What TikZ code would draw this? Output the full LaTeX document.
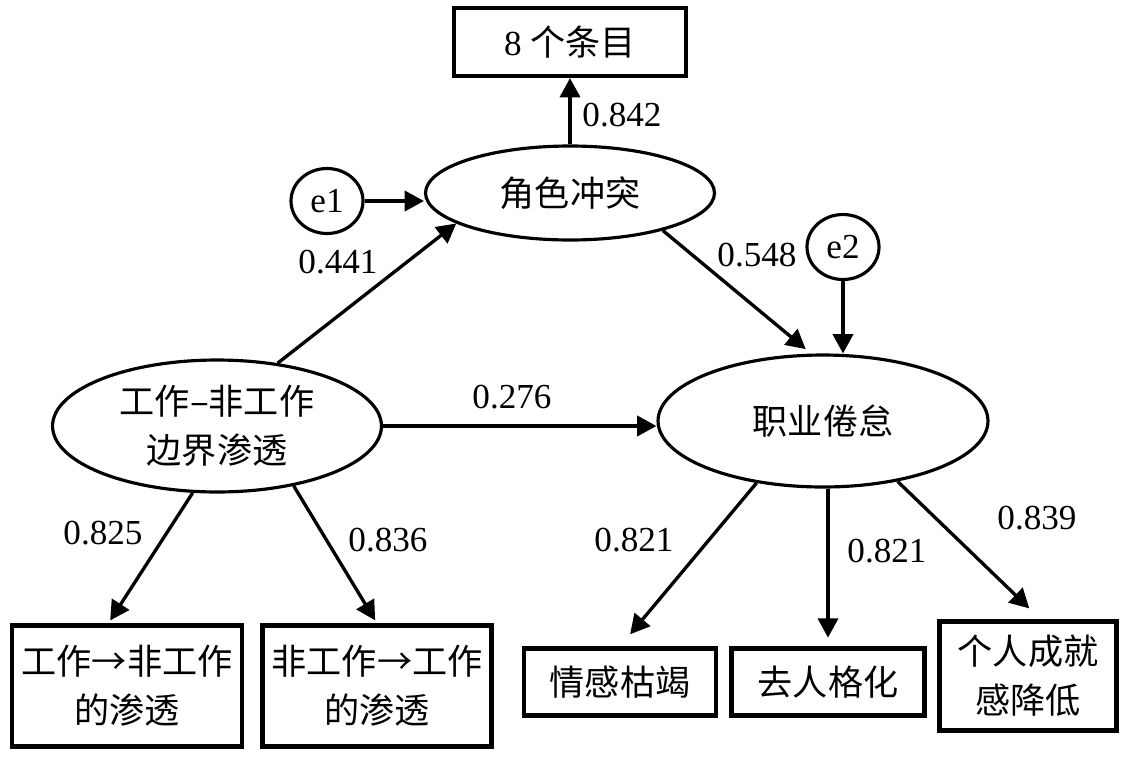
\documentclass[tikz,border=0pt]{standalone}
\usepackage{fontspec}
\setmainfont{Liberation Serif}
\newfontfamily\cjk{Noto Sans CJK SC}
\usetikzlibrary{arrows.meta,calc,shapes.geometric}

\begin{document}
\begin{tikzpicture}[
    x=0.02cm, y=-0.02cm,
    every node/.style={font=\fontsize{20}{28}\selectfont},
    latent/.style={draw,ellipse,line width=1.8pt,inner sep=0pt,align=center},
    indic/.style={draw,rectangle,line width=2.4pt,inner sep=0pt,align=center},
    err/.style={draw,ellipse,line width=1.8pt,inner sep=0pt,minimum width=1.44cm,minimum height=1.3cm},
    path/.style={line width=1.9pt,-{Triangle[length=11pt,width=11.5pt]}},
    coef/.style={inner sep=0pt}
    ]
    \useasboundingbox (0,0) rectangle (1135,761);

    % latent variables
    \node[latent,minimum width=5.78cm,minimum height=1.88cm] (role) at (570,193) {\cjk 角色冲突};
    \node[latent,minimum width=6.58cm,minimum height=2.64cm] (lft) at (217,426) {\cjk 工作–非工作\\\cjk 边界渗透};
    \node[latent,minimum width=6.6cm,minimum height=2.64cm] (burn) at (823,421) {\cjk 职业倦怠};

    % errors
    \node[err] (e1) at (327,201) {e1};
    \node[err] (e2) at (843,247) {e2};

    % indicators
    \node[indic,minimum width=4.64cm,minimum height=1.36cm] (items) at (570,42) {8 {\cjk 个条目}};
    \node[indic,minimum width=4.6cm,minimum height=2.42cm] (wtn) at (127,686) {\cjk 工作→非工作\\\cjk 的渗透};
    \node[indic,minimum width=4.58cm,minimum height=2.42cm] (ntw) at (377,686) {\cjk 非工作→工作\\\cjk 的渗透};
    \node[indic,minimum width=3.84cm,minimum height=1.34cm] (emo) at (620,682) {\cjk 情感枯竭};
    \node[indic,minimum width=3.86cm,minimum height=1.34cm] (depers) at (828,682) {\cjk 去人格化};
    \node[indic,minimum width=3.54cm,minimum height=2.18cm] (ach) at (1028,676) {\cjk 个人成就\\\cjk 感降低};

    % paths
    \draw[path] (e1.east) -- (e1.east -| role.west);
    \draw[path] (role.north) -- (items.south);
    \draw[path] (lft.46) -- (role.195);
    \draw[path,shorten >=4pt] (role.-22) -- (burn.100);
    \draw[path] (e2.south) -- (e2.south |- burn.north);
    \draw[path] (lft.east) -- (lft.east -| burn.west);
    \draw[path,shorten >=2pt] (lft.-110) -- ($(wtn.north west)!0.42!(wtn.north east)$);
    \draw[path,shorten >=2pt] (lft.-38) -- (ntw.north);
    \draw[path,shorten >=9pt] (burn.-137) -- (emo.north);
    \draw[path,shorten >=5pt] (depers.north |- burn.south) -- (depers.north);
    \draw[path,shorten >=9pt] (burn.-39) -- ($(ach.north west)!0.57!(ach.north east)$);

    % coefficients
    \node[coef] (c842) at (622,115) {0.842};
    \node[coef] (c441) at (338,262) {0.441};
    \node[coef] (c548) at (757,255) {0.548};
    \node[coef] (c276) at (512,397) {0.276};
    \node[coef] (c825) at (103,533) {0.825};
    \node[coef] (c836) at (388,540) {0.836};
    \node[coef] (c821a) at (634,540) {0.821};
    \node[coef] (c821b) at (887,551) {0.821};
    \node[coef] (c839) at (1037,518) {0.839};
\end{tikzpicture}
\end{document}
